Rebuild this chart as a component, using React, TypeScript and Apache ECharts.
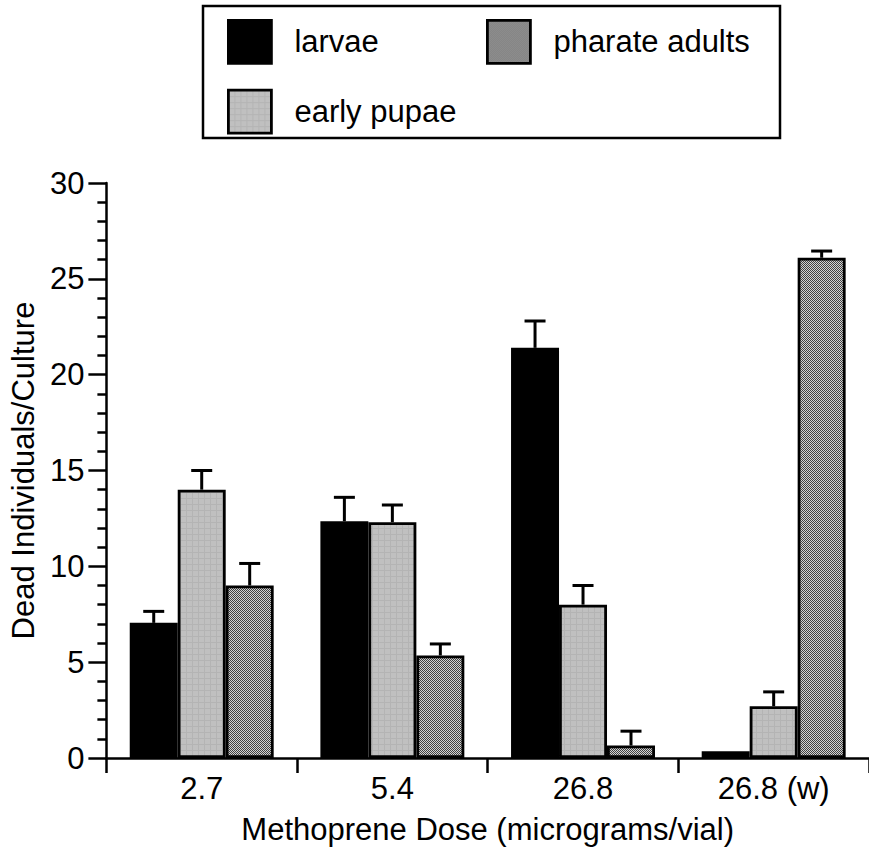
import React, { useEffect, useRef } from "react";
import * as echarts from "echarts";

const categories = ["2.7", "5.4", "26.8", "26.8 (w)"];
const seriesNames = ["larvae", "early pupae", "pharate adults"];
const larvae = [7.05, 12.35, 21.4, 0.35];
const larvaeErr = [0.6, 1.25, 1.4, 0];
const earlyPupae = [14.0, 12.3, 8.0, 2.7];
const earlyPupaeErr = [1.0, 0.9, 1.0, 0.75];
const pharateAdults = [9.0, 5.35, 0.65, 26.1];
const pharateAdultsErr = [1.15, 0.6, 0.75, 0.35];

const FONT = '"Liberation Sans", Arial, Helvetica, sans-serif';
const CAT_GAP = 0.245;

function makeChecker(a: string, b: string, size: number) {
  const c = document.createElement("canvas");
  c.width = size * 2;
  c.height = size * 2;
  const ctx = c.getContext("2d")!;
  ctx.fillStyle = a;
  ctx.fillRect(0, 0, size * 2, size * 2);
  ctx.fillStyle = b;
  ctx.fillRect(0, 0, size, size);
  ctx.fillRect(size, size, size, size);
  return c;
}

function makeLight() {
  const c = document.createElement("canvas");
  c.width = 6;
  c.height = 6;
  const ctx = c.getContext("2d")!;
  ctx.fillStyle = "#c0c0c0";
  ctx.fillRect(0, 0, 6, 6);
  ctx.fillStyle = "#b4b4b4";
  ctx.fillRect(0, 0, 6, 1);
  ctx.fillRect(0, 0, 1, 6);
  return c;
}

export default function App() {
  const ref = useRef<HTMLDivElement>(null);
  useEffect(() => {
    if (!ref.current) return;
    const chart = echarts.init(ref.current, undefined, { renderer: "svg" });
    const darkPattern = { image: makeChecker("#d2d2d2", "#404040", 1), repeat: "repeat" };
    const lightPattern = { image: makeLight(), repeat: "repeat" };
    const values = [larvae, earlyPupae, pharateAdults];
    const errs = [larvaeErr, earlyPupaeErr, pharateAdultsErr];
    const fills: any[] = ["#000000", lightPattern, darkPattern];

    const barSeries = seriesNames.map((name, i) => ({
      name,
      type: "bar",
      data: values[i],
      barGap: "0%",
      barCategoryGap: (CAT_GAP * 100).toFixed(1) + "%",
      itemStyle: { color: fills[i], borderColor: "#000", borderWidth: 2.8 },
      emphasis: { disabled: true },
    }));

    const errSeries = seriesNames.map((name, i) => ({
      name: name + " err",
      type: "custom",
      data: values[i].map((v, k) => [k, v, errs[i][k]]),
      encode: { x: 0, y: 1 },
      z: 3,
      renderItem: (params: any, api: any) => {
        const k = api.value(0);
        const v = api.value(1);
        const e = api.value(2);
        if (!e) return null;
        const catW = api.size([1, 0])[0];
        const bw = (catW * (1 - CAT_GAP)) / 3;
        const base = api.coord([k, v]);
        const top = api.coord([k, v + e]);
        const x = base[0] + (i - 1) * bw;
        const half = 10.5;
        return {
          type: "group",
          children: [
            {
              type: "line",
              shape: { x1: x, y1: base[1], x2: x, y2: top[1] },
              style: { stroke: "#000", lineWidth: 3 },
            },
            {
              type: "line",
              shape: { x1: x - half, y1: top[1], x2: x + half, y2: top[1] },
              style: { stroke: "#000", lineWidth: 3 },
            },
          ],
        };
      },
    }));

    const legendCommon = {
      orient: "vertical",
      itemWidth: 43,
      itemHeight: 43,
      itemGap: 24,
      padding: 0,
      icon: "rect",
      selectedMode: false,
      itemStyle: { borderColor: "#000", borderWidth: 2.8 },
      textStyle: { fontSize: 31, fontFamily: FONT, color: "#000", padding: [0, 0, 0, 18] },
    };

    chart.setOption({
      animation: false,
      textStyle: { fontFamily: FONT },
      legend: [
        { ...legendCommon, left: 227, top: 19, data: ["larvae", "early pupae"] },
        { ...legendCommon, left: 486, top: 19, data: ["pharate adults"] },
      ],
      graphic: [
        {
          type: "rect",
          shape: { x: 203, y: 6, width: 577, height: 132 },
          style: { fill: "none", stroke: "#000", lineWidth: 2.5 },
          z: 10,
        },
      ],
      grid: { left: 104, top: 183, width: 768, height: 575 },
      xAxis: {
        type: "category",
        data: categories,
        name: "Methoprene Dose (micrograms/vial)",
        nameLocation: "middle",
        nameGap: 56,
        nameTextStyle: { fontSize: 31, color: "#000", fontFamily: FONT },
        axisLine: { lineStyle: { color: "#000", width: 2.5 } },
        axisTick: { show: true, length: 15, lineStyle: { color: "#000", width: 2.5 } },
        axisLabel: { fontSize: 31, color: "#000", margin: 15, fontFamily: FONT },
      },
      yAxis: {
        type: "value",
        min: 0,
        max: 30,
        interval: 5,
        name: "Dead Individuals/Culture",
        nameLocation: "middle",
        nameGap: 60,
        nameTextStyle: { fontSize: 31, color: "#000", fontFamily: FONT },
        axisLine: { show: true, lineStyle: { color: "#000", width: 2.5 } },
        axisTick: { show: true, length: 18, lineStyle: { color: "#000", width: 2.5 } },
        minorTick: { show: true, splitNumber: 5, length: 9, lineStyle: { color: "#000", width: 2.5 } },
        splitLine: { show: false },
        axisLabel: { fontSize: 31, color: "#000", margin: 22, fontFamily: FONT },
      },
      series: [...barSeries, ...errSeries],
    });
    return () => chart.dispose();
  }, []);
  return (
    <div
      ref={ref}
      style={{ position: "absolute", left: 0, top: 0, width: 869, height: 850 }}
    />
  );
}
